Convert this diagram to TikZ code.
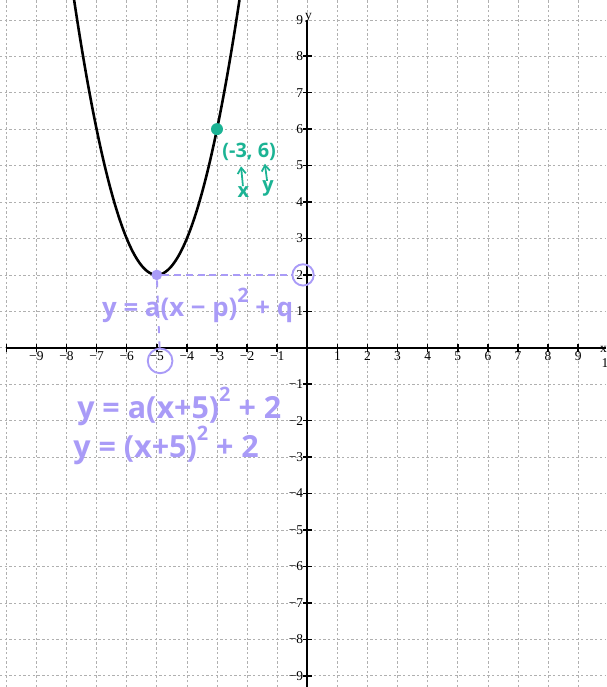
\documentclass[tikz,border=0pt]{standalone}
\usepackage{fontspec}
\setmainfont{Liberation Serif}
\newfontfamily\handfont{Open Sans}
\usetikzlibrary{arrows.meta}
\definecolor{penteal}{HTML}{1BB394}
\definecolor{penpurple}{HTML}{A99BF7}
\definecolor{gridgray}{HTML}{B0B0B0}
\newcommand\handsq{\raisebox{0.55em}{\fontsize{17}{18}\selectfont 2}}

\begin{document}
\begin{tikzpicture}[x=0.903cm, y=1.0932cm,
  every node/.style={font=\fontsize{11.5}{13}\selectfont},
  gridline/.style={gridgray, line width=0.5pt, dash pattern=on 2pt off 2pt},
  hand/.style={font=\handfont\bfseries\fontsize{22}{26}\selectfont, inner sep=0pt, anchor=base west},
  bighand/.style={hand, font=\handfont\bfseries\fontsize{26}{30}\selectfont},
  smallhand/.style={font=\handfont\bfseries\fontsize{17}{20}\selectfont, inner sep=0pt, text=penteal},
  ring/.style={circle, draw=penpurple, line width=1.6pt, inner sep=0pt}]
  \useasboundingbox (-10.209,-9.309) rectangle (9.924,9.544);

  % grid
  \foreach \i in {-10,...,9}
    \draw[gridline] (\i,-9.309) -- (\i,9.544);
  \foreach \j in {-9,...,9}
    \draw[gridline] (-10.209,\j) -- (9.924,\j);

  % axes
  \draw[line width=1.6pt] (-10,0) -- (9.924,0);
  \draw[line width=1.6pt] (0,-9.309) -- (0,9);
  \node (xname) at (9.84,-0.04) {x};
  \node (yname) at (0.04,9.04) {y};

  % ticks and labels
  \foreach \i in {-10,...,-1,1,2,...,9}
    \draw[line width=1.3pt] (\i,-0.11) -- (\i,0.11);
  \foreach \j in {-9,...,-1,1,2,...,8}
    \draw[line width=1.3pt] (-0.14,\j) -- (0.14,\j);
  \foreach \i in {1,...,9}
    \node (xtick\i) at (\i,-0.23) {\i};
  \foreach \i in {1,...,9}
    \node (xtickm\i) at (-\i,-0.23) {−\i};
  \node (xtick10) at (10,-0.42) {10};
  \foreach \j in {1,...,9}
    \node[anchor=east, inner sep=0pt] (ytick\j) at (-0.13,\j) {\j};
  \foreach \j in {1,...,9}
    \node[anchor=east, inner sep=0pt] (ytickm\j) at (-0.13,-\j) {−\j};

  % parabola
  \draw[line width=2.2pt, samples=120, domain=-7.7466:-2.2534]
    plot (\x,{(\x+5)^2+2});

  % point on the curve
  \node[circle, fill=penteal, minimum size=0.36cm, inner sep=0pt] (pointdot) at (-3,6) {};
  \node[hand, smallhand, anchor=base west] (point) at (-2.83,5.23) {(-3, 6)};
  \node[smallhand] (xmark) at (-2.12,4.28) {x};
  \node[smallhand] (ymark) at (-1.30,4.36) {y};
  \coordinate (xtip) at (-2.20,4.98);
  \coordinate (ytip) at (-1.41,5.05);
  \draw[penteal, line width=1.5pt, -{Straight Barb[length=5pt, width=7pt]}] (xmark) -- (xtip);
  \draw[penteal, line width=1.5pt, -{Straight Barb[length=5pt, width=7pt]}] (ymark) -- (ytip);

  % vertex
  \node[circle, fill=penpurple, minimum size=0.32cm, inner sep=0pt] (vertex) at (-5,2) {};
  \node[ring, minimum size=0.64cm] (qring) at (-0.14,2.0) {};
  \node[ring, minimum size=0.74cm] (pring) at (-4.89,-0.36) {};
  \draw[penpurple, line width=1.6pt, dash pattern=on 6pt off 4pt] (vertex) -- (qring);
  \draw[penpurple, line width=1.6pt, dash pattern=on 6pt off 7pt] (vertex) -- (pring);

  % equations
  \node[hand, text=penpurple] (vertexform) at (-6.82,0.85) {y = a(x − p)\handsq{} + q};
  \node[bighand, text=penpurple] (stepone) at (-7.65,-1.93) {y = a(x+5)\handsq{} + 2};
  \node[bighand, text=penpurple] (steptwo) at (-7.78,-3.00) {y = (x+5)\handsq{} + 2};
\end{tikzpicture}
\end{document}
